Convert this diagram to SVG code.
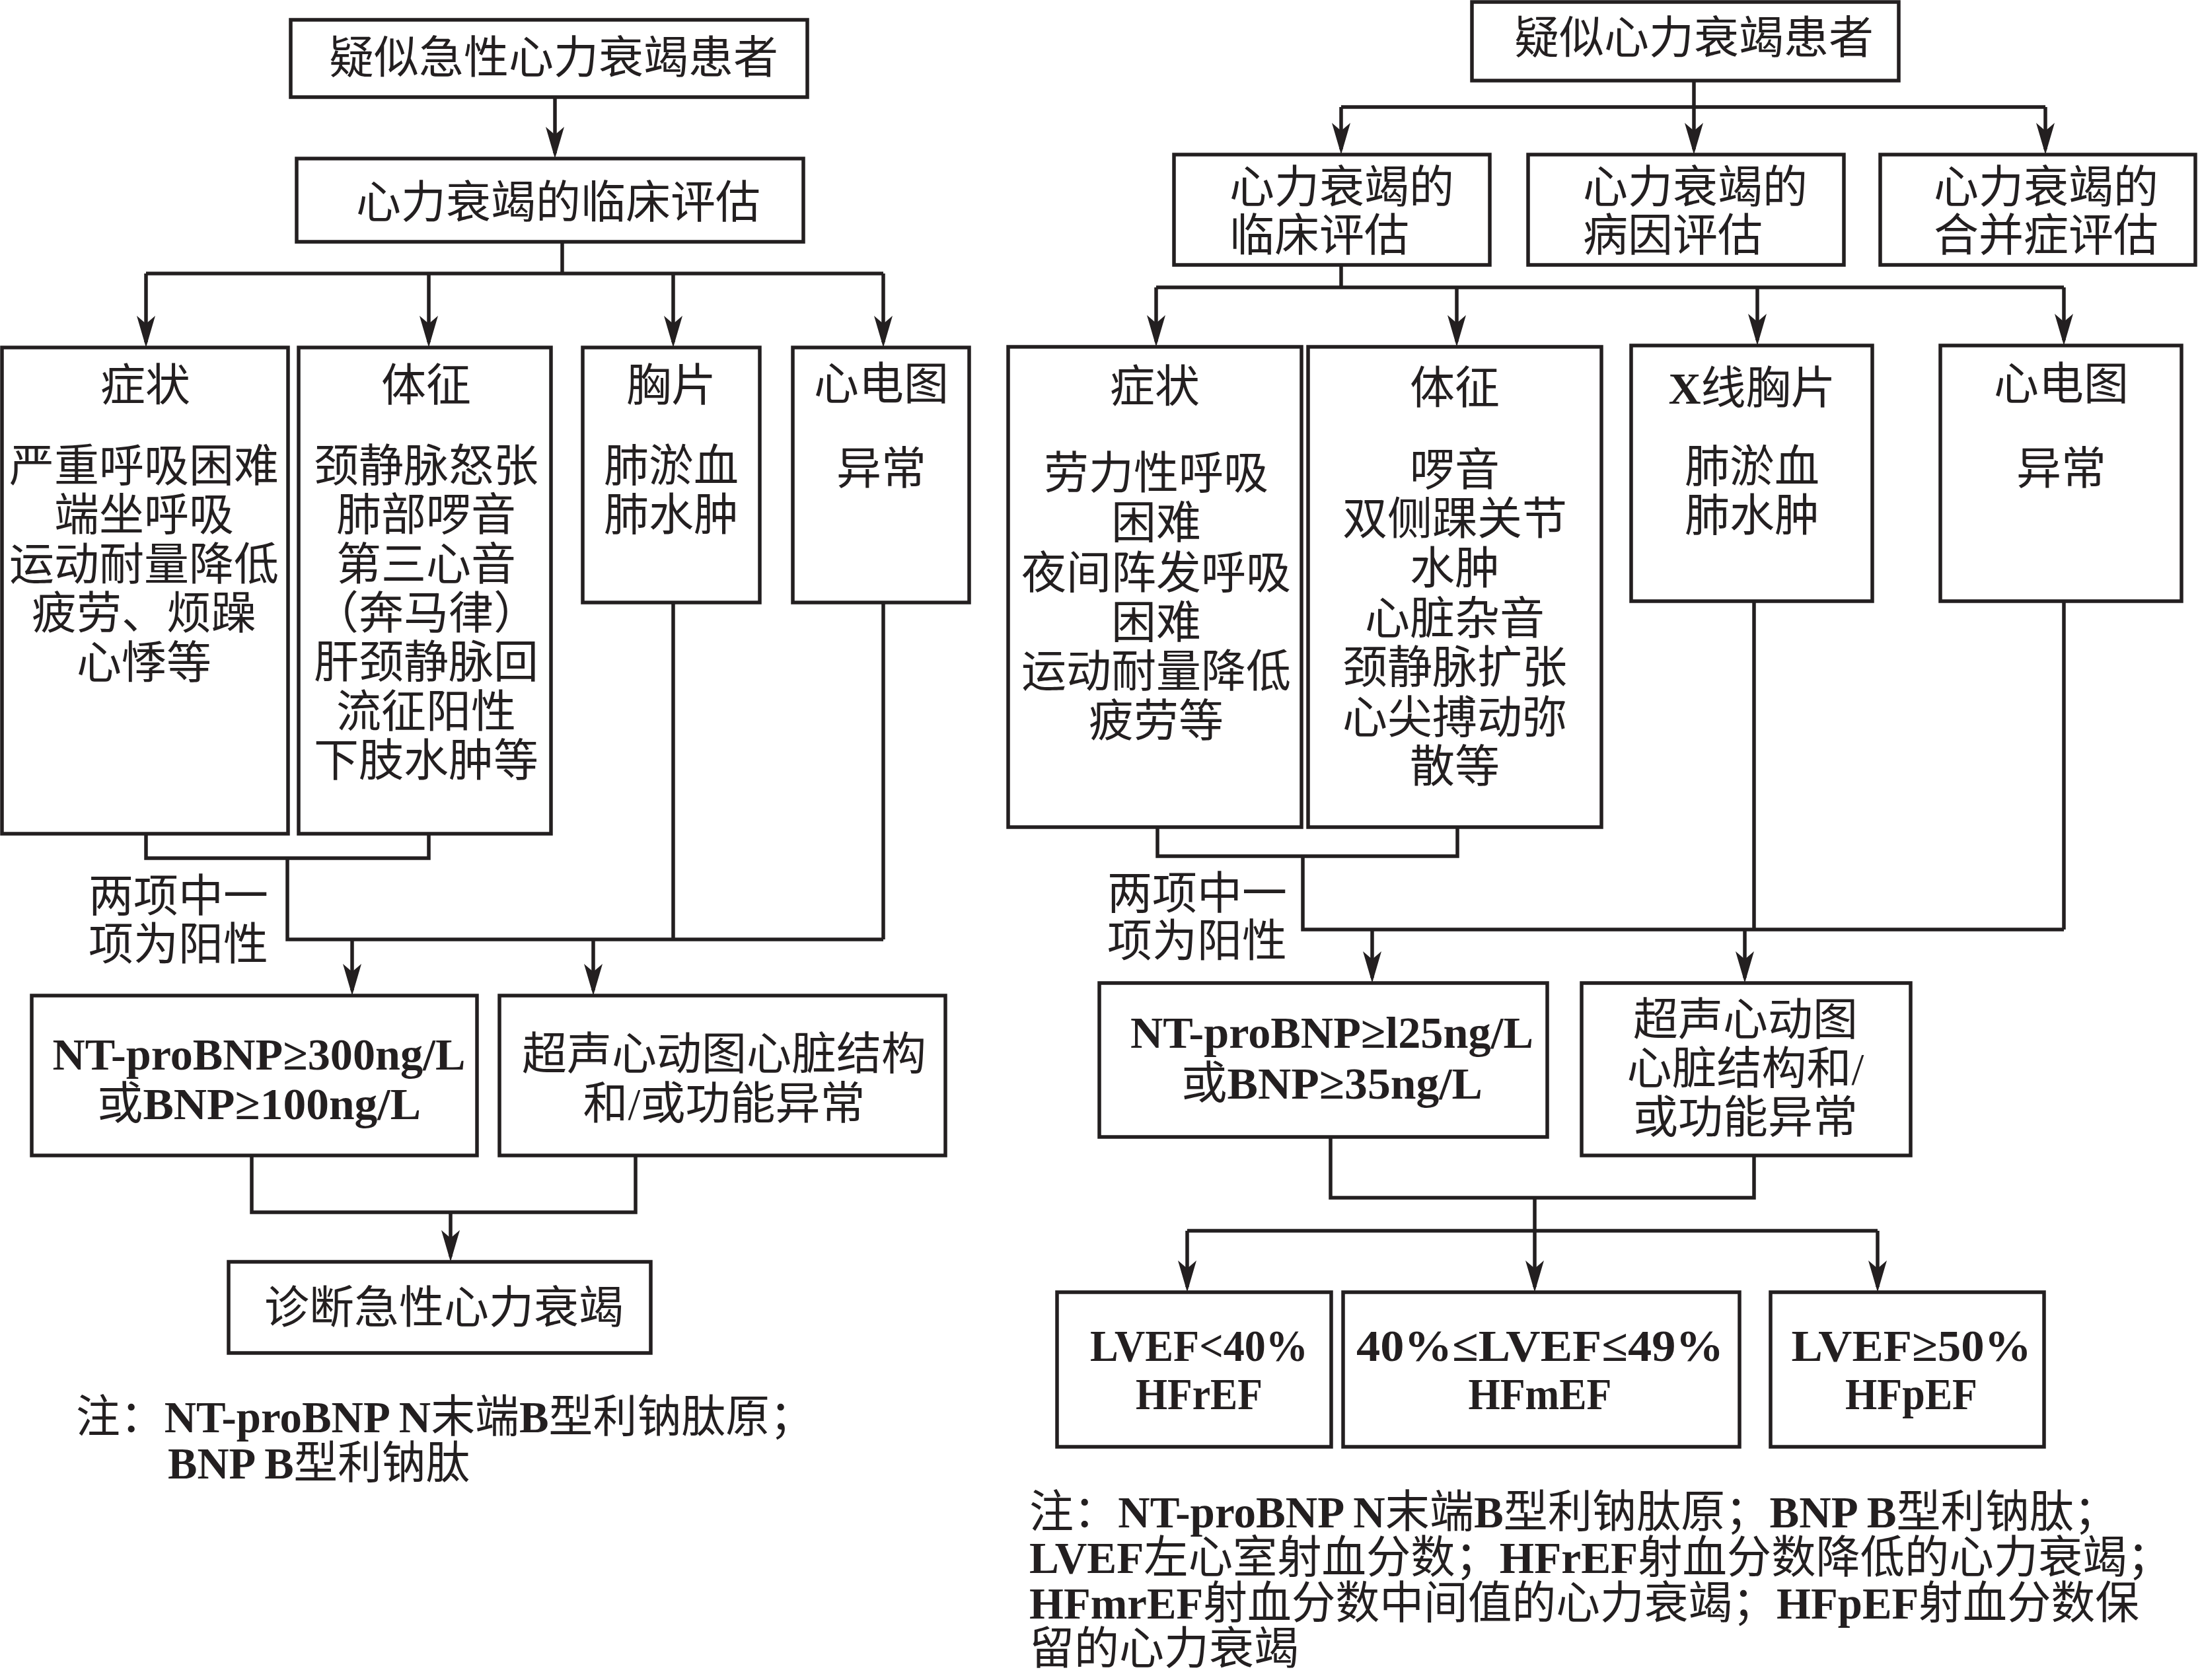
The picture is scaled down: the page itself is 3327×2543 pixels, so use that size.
<svg xmlns="http://www.w3.org/2000/svg" width="3327" height="2543" viewBox="0 0 3327 2543">
<defs>
<style>
.bx{fill:none;stroke:#231f20;stroke-width:5.5}
.ln{fill:none;stroke:#231f20;stroke-width:5.5}
.ar{fill:none;stroke:#231f20;stroke-width:5.5;marker-end:url(#ah)}
text{font-family:"Liberation Serif","Noto Sans CJK SC",serif;font-size:68px;fill:#231f20;dominant-baseline:central}
.c{text-anchor:middle}
.s{text-anchor:start}
.b{font-weight:bold}
</style>
<marker id="ah" viewBox="0 -14 48 28" refX="40" refY="0" markerWidth="48" markerHeight="28" markerUnits="userSpaceOnUse" orient="auto">
<path d="M0,-14 L48,0 L0,14 L12,0 Z" fill="#231f20"/>
</marker>
</defs>
<rect width="3327" height="2543" fill="#ffffff"/>

<g id="connectors">
<!-- left -->
<path class="ar" d="M840,147 V232"/>
<path class="ln" d="M851,366 V414 M221,414 H1337"/>
<path class="ar" d="M221,414 V518"/>
<path class="ar" d="M649,414 V518"/>
<path class="ar" d="M1019,414 V518"/>
<path class="ar" d="M1337,414 V518"/>
<path class="ln" d="M221,1262 V1299 H649 V1262"/>
<path class="ln" d="M435,1299 V1422 H1337 M1019,912 V1422 M1337,912 V1422"/>
<path class="ar" d="M533,1422 V1499"/>
<path class="ar" d="M898,1422 V1499"/>
<path class="ln" d="M381,1749 V1835 H962 V1749"/>
<path class="ar" d="M682,1835 V1902"/>
<!-- right -->
<path class="ln" d="M2564,122 V162 M2030,162 H3096"/>
<path class="ar" d="M2030,162 V226"/>
<path class="ar" d="M2564,162 V226"/>
<path class="ar" d="M3096,162 V226"/>
<path class="ln" d="M2030,401 V435 M1750,435 H3124"/>
<path class="ar" d="M1750,435 V517"/>
<path class="ar" d="M2205,435 V517"/>
<path class="ar" d="M2660,435 V515"/>
<path class="ar" d="M3124,435 V515"/>
<path class="ln" d="M1752,1252 V1296 H2206 V1252"/>
<path class="ln" d="M1972,1296 V1407 H3124 M2655,910 V1407 M3124,910 V1407"/>
<path class="ar" d="M2077,1407 V1480"/>
<path class="ar" d="M2641,1407 V1480"/>
<path class="ln" d="M2014,1721 V1813 H2655 V1749"/>
<path class="ln" d="M2323,1813 V1863 M1797,1863 H2842"/>
<path class="ar" d="M1797,1863 V1948"/>
<path class="ar" d="M2323,1863 V1948"/>
<path class="ar" d="M2842,1863 V1948"/>
</g>

<!-- LEFT FLOW -->
<g id="l-suspect">
<rect class="bx" x="440" y="30" width="782" height="117"/>
<text class="c" x="838" y="88">疑似急性心力衰竭患者</text>
</g>
<g id="l-clinical">
<rect class="bx" x="449" y="240" width="767" height="126"/>
<text class="c" x="845" y="307">心力衰竭的临床评估</text>
</g>
<g id="l-symptom">
<rect class="bx" x="3" y="526" width="433" height="736"/>
<text class="c" x="220" y="584">症状</text>
<text class="c" x="218" y="706">严重呼吸困难</text>
<text class="c" x="218" y="780">端坐呼吸</text>
<text class="c" x="218" y="855">运动耐量降低</text>
<text class="c" x="218" y="929">疲劳、烦躁</text>
<text class="c" x="218" y="1004">心悸等</text>
</g>
<g id="l-sign">
<rect class="bx" x="452" y="526" width="382" height="736"/>
<text class="c" x="645" y="584">体征</text>
<text class="c" x="645" y="706">颈静脉怒张</text>
<text class="c" x="645" y="780">肺部啰音</text>
<text class="c" x="645" y="855">第三心音</text>
<text class="c" x="645" y="929">（奔马律）</text>
<text class="c" x="645" y="1003">肝颈静脉回</text>
<text class="c" x="645" y="1078">流征阳性</text>
<text class="c" x="645" y="1152">下肢水肿等</text>
</g>
<g id="l-xray">
<rect class="bx" x="882" y="526" width="268" height="386"/>
<text class="c" x="1016" y="584">胸片</text>
<text class="c" x="1016" y="706">肺淤血</text>
<text class="c" x="1016" y="780">肺水肿</text>
</g>
<g id="l-ecg">
<rect class="bx" x="1200" y="526" width="267" height="386"/>
<text class="c" x="1334" y="582">心电图</text>
<text class="c" x="1334" y="710">异常</text>
</g>
<g id="l-note-positive">
<text class="s" x="134" y="1357">两项中一</text>
<text class="s" x="134" y="1430">项为阳性</text>
</g>
<g id="l-ntprobnp">
<rect class="bx" x="48" y="1507" width="674" height="242"/>
<text class="c" x="392" y="1596" textLength="625" lengthAdjust="spacingAndGlyphs"><tspan class="b">NT-proBNP≥300ng/L</tspan></text>
<text class="c" x="392" y="1671" textLength="490" lengthAdjust="spacingAndGlyphs">或<tspan class="b">BNP≥100ng/L</tspan></text>
</g>
<g id="l-echo">
<rect class="bx" x="756" y="1507" width="675" height="242"/>
<text class="c" x="1096" y="1596">超声心动图心脏结构</text>
<text class="c" x="1096" y="1671">和/或功能异常</text>
</g>
<g id="l-diagnosis">
<rect class="bx" x="346" y="1910" width="639" height="138"/>
<text class="c" x="672" y="1980">诊断急性心力衰竭</text>
</g>
<g id="l-footnote">
<text class="s" x="115" y="2145" textLength="1117" lengthAdjust="spacingAndGlyphs">注：<tspan class="b">NT-proBNP N</tspan>末端<tspan class="b">B</tspan>型利钠肽原；</text>
<text class="s" x="254" y="2215" textLength="457" lengthAdjust="spacingAndGlyphs"><tspan class="b">BNP B</tspan>型利钠肽</text>
</g>

<!-- RIGHT FLOW -->
<g id="r-suspect">
<rect class="bx" x="2228" y="3" width="646" height="119"/>
<text class="c" x="2564" y="58">疑似心力衰竭患者</text>
</g>
<g id="r-clinical">
<rect class="bx" x="1777" y="234" width="478" height="167"/>
<text class="s" x="1861" y="284">心力衰竭的</text>
<text class="s" x="1861" y="357">临床评估</text>
</g>
<g id="r-etiology">
<rect class="bx" x="2313" y="234" width="478" height="167"/>
<text class="s" x="2396" y="284">心力衰竭的</text>
<text class="s" x="2396" y="357">病因评估</text>
</g>
<g id="r-comorbidity">
<rect class="bx" x="2846" y="234" width="477" height="167"/>
<text class="s" x="2927" y="284">心力衰竭的</text>
<text class="s" x="2927" y="357">合并症评估</text>
</g>
<g id="r-symptom">
<rect class="bx" x="1526" y="525" width="444" height="727"/>
<text class="c" x="1748" y="586">症状</text>
<text class="c" x="1750" y="717">劳力性呼吸</text>
<text class="c" x="1750" y="792">困难</text>
<text class="c" x="1750" y="868">夜间阵发呼吸</text>
<text class="c" x="1750" y="943">困难</text>
<text class="c" x="1750" y="1017">运动耐量降低</text>
<text class="c" x="1750" y="1092">疲劳等</text>
</g>
<g id="r-sign">
<rect class="bx" x="1980" y="525" width="444" height="727"/>
<text class="c" x="2202" y="588">体征</text>
<text class="c" x="2202" y="712">啰音</text>
<text class="c" x="2202" y="786">双侧踝关节</text>
<text class="c" x="2202" y="861">水肿</text>
<text class="c" x="2202" y="937">心脏杂音</text>
<text class="c" x="2202" y="1011">颈静脉扩张</text>
<text class="c" x="2202" y="1087">心尖搏动弥</text>
<text class="c" x="2202" y="1161">散等</text>
</g>
<g id="r-xray">
<rect class="bx" x="2469" y="523" width="365" height="387"/>
<text class="c" x="2652" y="588"><tspan class="b">X</tspan>线胸片</text>
<text class="c" x="2652" y="707">肺淤血</text>
<text class="c" x="2652" y="781">肺水肿</text>
</g>
<g id="r-ecg">
<rect class="bx" x="2937" y="523" width="365" height="387"/>
<text class="c" x="3120" y="582">心电图</text>
<text class="c" x="3120" y="710">异常</text>
</g>
<g id="r-note-positive">
<text class="s" x="1676" y="1353">两项中一</text>
<text class="s" x="1676" y="1425">项为阳性</text>
</g>
<g id="r-ntprobnp">
<rect class="bx" x="1664" y="1488" width="678" height="233"/>
<text class="c" x="2016" y="1563" textLength="610" lengthAdjust="spacingAndGlyphs"><tspan class="b">NT-proBNP≥l25ng/L</tspan></text>
<text class="c" x="2016" y="1640" textLength="456" lengthAdjust="spacingAndGlyphs">或<tspan class="b">BNP≥35ng/L</tspan></text>
</g>
<g id="r-echo">
<rect class="bx" x="2394" y="1488" width="498" height="261"/>
<text class="c" x="2642" y="1544">超声心动图</text>
<text class="c" x="2642" y="1618">心脏结构和/</text>
<text class="c" x="2642" y="1692">或功能异常</text>
</g>
<g id="r-hfref">
<rect class="bx" x="1600" y="1956" width="415" height="234"/>
<text class="c" x="1815" y="2037" textLength="330" lengthAdjust="spacingAndGlyphs"><tspan class="b">LVEF&lt;40%</tspan></text>
<text class="c" x="1815" y="2110" textLength="192" lengthAdjust="spacingAndGlyphs"><tspan class="b">HFrEF</tspan></text>
</g>
<g id="r-hfmef">
<rect class="bx" x="2033" y="1956" width="600" height="234"/>
<text class="c" x="2331" y="2037" textLength="556" lengthAdjust="spacingAndGlyphs"><tspan class="b">40%≤LVEF≤49%</tspan></text>
<text class="c" x="2331" y="2110" textLength="217" lengthAdjust="spacingAndGlyphs"><tspan class="b">HFmEF</tspan></text>
</g>
<g id="r-hfpef">
<rect class="bx" x="2680" y="1956" width="414" height="234"/>
<text class="c" x="2893" y="2037" textLength="363" lengthAdjust="spacingAndGlyphs"><tspan class="b">LVEF≥50%</tspan></text>
<text class="c" x="2893" y="2110" textLength="200" lengthAdjust="spacingAndGlyphs"><tspan class="b">HFpEF</tspan></text>
</g>
<g id="r-footnote">
<text class="s" x="1558" y="2289" textLength="1648" lengthAdjust="spacingAndGlyphs">注：<tspan class="b">NT-proBNP N</tspan>末端<tspan class="b">B</tspan>型利钠肽原；<tspan class="b">BNP B</tspan>型利钠肽；</text>
<text class="s" x="1558" y="2358" textLength="1729" lengthAdjust="spacingAndGlyphs"><tspan class="b">LVEF</tspan>左心室射血分数；<tspan class="b">HFrEF</tspan>射血分数降低的心力衰竭；</text>
<text class="s" x="1558" y="2427" textLength="1680" lengthAdjust="spacingAndGlyphs"><tspan class="b">HFmrEF</tspan>射血分数中间值的心力衰竭；<tspan class="b">HFpEF</tspan>射血分数保</text>
<text class="s" x="1558" y="2496">留的心力衰竭</text>
</g>
</svg>
